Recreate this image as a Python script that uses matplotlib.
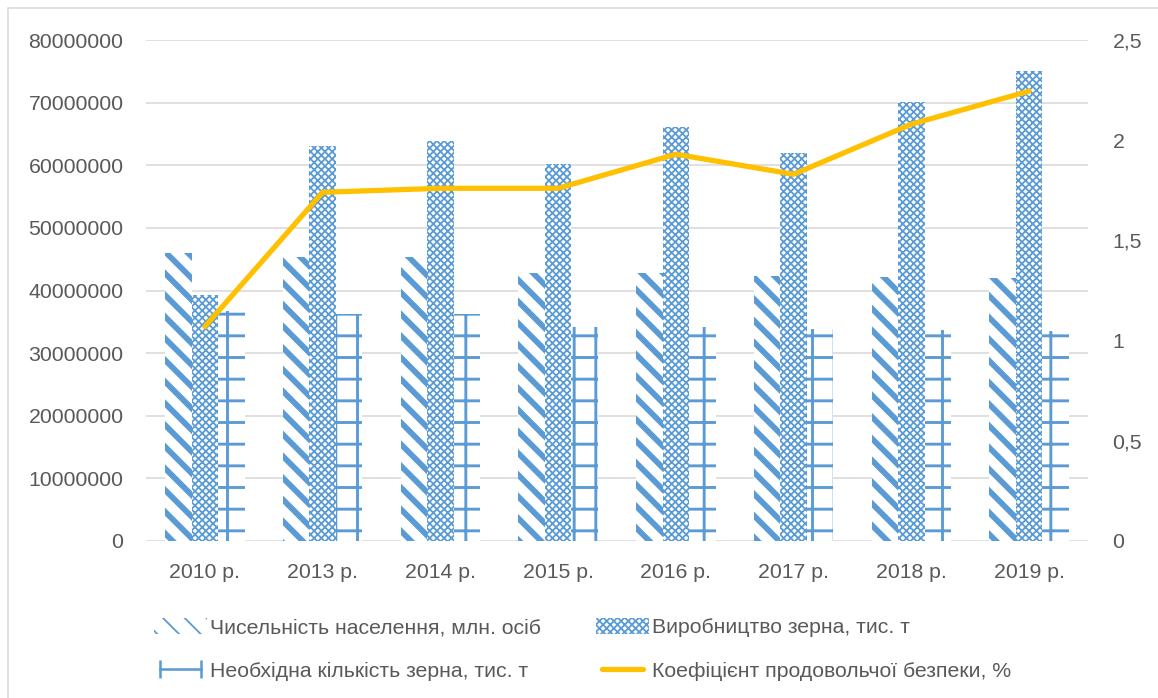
import matplotlib
matplotlib.use("Agg")
import matplotlib.pyplot as plt
import numpy as np
from matplotlib.patches import Patch, Rectangle
from matplotlib.lines import Line2D

# ---- data ----
categories = ["2010 р.", "2013 р.", "2014 р.", "2015 р.", "2016 р.", "2017 р.", "2018 р.", "2019 р."]
population = [45960000, 45370000, 45400000, 42850000, 42780000, 42350000, 42200000, 41980000]
production = [39270000, 63050000, 63860000, 60130000, 66090000, 61920000, 70060000, 75100000]
required = [36700000, 36300000, 36250000, 34250000, 34100000, 33800000, 33700000, 33550000]
coefficient = [1.07, 1.74, 1.76, 1.76, 1.93, 1.83, 2.08, 2.245]
left_ticks = [0, 10000000, 20000000, 30000000, 40000000, 50000000, 60000000, 70000000, 80000000]
right_ticks = [0, 0.5, 1, 1.5, 2, 2.5]
right_tick_labels = ["0", "0,5", "1", "1,5", "2", "2,5"]
labels = ["Чисельність населення, млн. осіб", "Виробництво зерна, тис. т",
          "Необхідна кількість зерна, тис. т", "Коефіцієнт продовольчої безпеки, %"]

BLUE = "#5b9bd5"
GOLD = "#ffc000"
TXT = "#595959"
GRID = "#d9d9d9"
DPI = 130
FS = 11.8

HATCH_POP = "\\\\"
HATCH_PROD = "xxxxxx"
HATCH_REQ = "+"

plt.rcParams['font.family'] = ['Liberation Sans', 'DejaVu Sans']

fig = plt.figure(figsize=(1158 / DPI, 698 / DPI), dpi=DPI)
fig.patch.set_facecolor("white")
ax = fig.add_axes([146 / 1158, 1 - 541 / 698, (1088 - 146) / 1158, (541 - 40) / 698])
ax2 = ax.twinx()

x = np.arange(len(categories))
w = 0.225


def hatched_bar(offset, vals, hatch, hlw):
    with plt.rc_context({'hatch.linewidth': hlw}):
        bars = ax.bar(x + offset, vals, w, facecolor="white", edgecolor=BLUE, linewidth=0,
                      hatch=hatch, zorder=2)
    for b in bars:
        if hasattr(b, "set_hatch_linewidth"):
            b.set_hatch_linewidth(hlw)
    return bars


hatched_bar(-w, population, HATCH_POP, 3.2)
hatched_bar(0, production, HATCH_PROD, 1.0)
hatched_bar(w, required, HATCH_REQ, 1.6)

ax.set_xlim(-0.5, len(categories) - 0.5)
ax.set_ylim(0, 80000000)
ax.set_yticks(left_ticks)
ax.set_yticklabels([str(v) for v in left_ticks])
ax.set_xticks(x)
ax.set_xticklabels(categories)
ax.yaxis.grid(True, color=GRID, linewidth=0.9, zorder=0)
ax.set_axisbelow(True)
for s in ax.spines.values():
    s.set_visible(False)
for s in ax2.spines.values():
    s.set_visible(False)
ax.tick_params(axis="both", length=0, labelsize=FS, labelcolor=TXT)
ax.tick_params(axis="y", pad=12.5)
ax.tick_params(axis="x", pad=12)

ax2.plot(x, coefficient, color=GOLD, linewidth=2.9, solid_joinstyle="round",
         solid_capstyle="round", zorder=5)
ax2.set_ylim(0, 2.5)
ax2.set_yticks(right_ticks)
ax2.set_yticklabels(right_tick_labels)
ax2.tick_params(axis="y", length=0, labelsize=FS, labelcolor=TXT, pad=13.5)

# outer border
fig.add_artist(Rectangle((8 / 1158, -0.05), 1.2, 1 - 8 / 698 + 0.05, transform=fig.transFigure,
                         fill=False, edgecolor=GRID, linewidth=0.9))

# legend
def legend_patch(hatch, lw):
    with plt.rc_context({'hatch.linewidth': lw}):
        p = Patch(facecolor="white", edgecolor=BLUE, linewidth=0, hatch=hatch)
    if hasattr(p, "set_hatch_linewidth"):
        p.set_hatch_linewidth(lw)
    return p


h1 = legend_patch(HATCH_POP, 3.0)
h2 = legend_patch(HATCH_PROD, 0.9)
h3 = Line2D([], [], color=BLUE, linewidth=1.4, marker="|", markersize=10,
            markeredgewidth=1.4, markeredgecolor=BLUE)
h4 = Line2D([], [], color=GOLD, linewidth=2.9, solid_capstyle="round")

# column-major fill: column 1 = population, required; column 2 = production, coefficient
leg = fig.legend([h1, h3, h2, h4], [labels[0], labels[2], labels[1], labels[3]],
                 ncol=2, loc="upper left", numpoints=2,
                 bbox_to_anchor=(154 / 1158, 1 - 618 / 698), frameon=False,
                 fontsize=FS, labelcolor=TXT, handlelength=2.5, handleheight=0.75,
                 handletextpad=0.15, columnspacing=2.55, labelspacing=1.14,
                 borderaxespad=0, borderpad=0)

fig.savefig("out.png", dpi=DPI)
